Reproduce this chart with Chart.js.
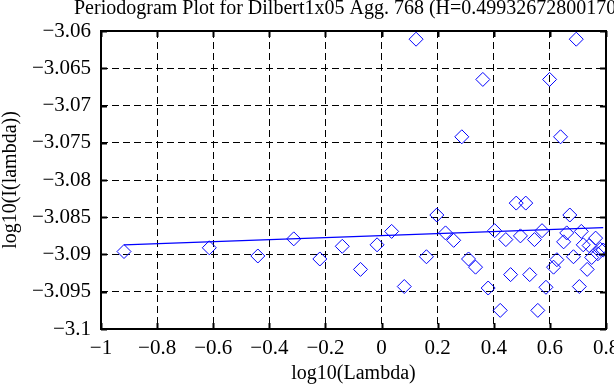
<!DOCTYPE html>
<html>
<head>
<meta charset="utf-8">
<script src="https://cdn.jsdelivr.net/npm/chart.js@4.4.1/dist/chart.umd.min.js"></script>
<style>
  html, body { margin: 0; padding: 0; background: #fff; }
  #wrap { width: 614px; height: 385px; }
</style>
</head>
<body>
<div id="wrap"><canvas id="chart" width="614" height="385"></canvas></div>
<script>
// periodogram points
const logLambda = [
    -0.918, -0.614, -0.441, -0.313, -0.220, -0.140, -0.075, -0.016, 0.036, 0.081,
    0.123, 0.160, 0.197, 0.228, 0.257, 0.286, 0.310, 0.335, 0.361, 0.380,
    0.403, 0.423, 0.443, 0.460, 0.480, 0.495, 0.514, 0.528, 0.545, 0.557,
    0.572, 0.586, 0.599, 0.613, 0.625, 0.638, 0.649, 0.660, 0.671, 0.684,
    0.694, 0.705, 0.712, 0.719, 0.733, 0.740, 0.749, 0.763, 0.771, 0.780, 0.790,
];
const logI = [
    -3.0896, -3.0891, -3.0902, -3.0879, -3.0906, -3.0889, -3.0920, -3.0887, -3.0869, -3.0943,
    -3.0611, -3.0903, -3.0847, -3.0871, -3.0881, -3.0742, -3.0906, -3.0917, -3.0665, -3.0945,
    -3.0868, -3.0975, -3.0880, -3.0927, -3.0831, -3.0875, -3.0831, -3.0927, -3.0880, -3.0975,
    -3.0868, -3.0944, -3.0665, -3.0917, -3.0907, -3.0742, -3.0883, -3.0871, -3.0847, -3.0903,
    -3.0611, -3.0943, -3.0869, -3.0887, -3.0920, -3.0888, -3.0904, -3.0878, -3.0899, -3.0893, -3.0894,
];

// least squares fit line end points
const fitX = [-0.918, 0.790];
const fitY = [-3.0887, -3.0864];

const xTicks = { min: -1, max: 0.8, step: 0.2 };
const yTicks = { min: -3.1, max: -3.06, step: 0.005 };

const titleText = 'Periodogram Plot for Dilbert1x05 Agg. 768 (H=0.499326728001706)';
const xLabel = 'log10(Lambda)';
const yLabel = 'log10(I(lambda))';

const serif = '"Liberation Serif", "DejaVu Serif", serif';
const blue = '#0000ff';

const toMinus = (s) => s.replace('-', '\u2212');

// title is wider than the canvas and gets cut on the right, so draw it
// centred over the plot without the library's maxWidth squeeze
const titlePlugin = {
    id: 'wideTitle',
    afterDraw(chart) {
        const { ctx, chartArea: a } = chart;
        ctx.save();
        ctx.font = `20px ${serif}`;
        ctx.fillStyle = '#000';
        ctx.textAlign = 'center';
        ctx.textBaseline = 'middle';
        ctx.fillText(titleText, (a.left + a.right) / 2, 9);
        ctx.restore();
    },
};

const framePlugin = {
    id: 'frame',
    afterDatasetsDraw(chart) {
        const { ctx, chartArea: a, scales } = chart;
        ctx.save();
        ctx.strokeStyle = '#000';
        ctx.lineWidth = 2;
        ctx.setLineDash([]);
        // inward tick marks on all four sides
        ctx.beginPath();
        scales.x.ticks.forEach((t) => {
            const px = Math.round(scales.x.getPixelForValue(t.value)) + 0.5;
            ctx.moveTo(px, a.top); ctx.lineTo(px, a.top + 6);
            ctx.moveTo(px, a.bottom); ctx.lineTo(px, a.bottom - 6);
        });
        scales.y.ticks.forEach((t) => {
            const py = Math.round(scales.y.getPixelForValue(t.value)) + 0.5;
            ctx.moveTo(a.left, py); ctx.lineTo(a.left + 6, py);
            ctx.moveTo(a.right, py); ctx.lineTo(a.right - 6, py);
        });
        ctx.stroke();
        ctx.strokeRect(a.left, a.top, a.right - a.left, a.bottom - a.top);
        ctx.restore();
    },
};

const gridStyle = {
    color: '#000',
    lineWidth: 1,
    drawTicks: false,
};

new Chart(document.getElementById('chart'), {
    type: 'scatter',
    data: {
        datasets: [
            {
                type: 'line',
                data: fitX.map((x, i) => ({ x, y: fitY[i] })),
                borderColor: blue,
                borderWidth: 1.3,
                pointRadius: 0,
                fill: false,
            },
            {
                data: logLambda.map((x, i) => ({ x, y: logI[i] })),
                pointStyle: 'rectRot',
                pointRadius: 7,
                borderColor: blue,
                backgroundColor: 'rgba(0,0,0,0)',
                borderWidth: 1,
            },
        ],
    },
    options: {
        responsive: false,
        animation: false,
        layout: { padding: { left: 0, right: 5, top: 31, bottom: 0 } },
        plugins: {
            legend: { display: false },
            tooltip: { enabled: false },
            title: { display: false },
        },
        scales: {
            x: {
                type: 'linear',
                min: xTicks.min,
                max: xTicks.max,
                grid: gridStyle,
                border: { display: false, dash: [7, 4] },
                ticks: {
                    stepSize: xTicks.step,
                    color: '#000',
                    padding: 7,
                    font: { family: serif, size: 21 },
                    callback: (v) => toMinus(String(Number(v.toFixed(2)))),
                },
                title: {
                    display: true,
                    text: xLabel,
                    color: '#000',
                    font: { family: serif, size: 20, lineHeight: 1.1 },
                    padding: { top: 0, bottom: 0 },
                },
                afterFit(scale) {
                    scale.height = 56;
                    scale.paddingLeft = 0;
                    scale.paddingRight = 0;
                },
            },
            y: {
                type: 'linear',
                min: yTicks.min,
                max: yTicks.max,
                grid: gridStyle,
                border: { display: false, dash: [7, 4] },
                ticks: {
                    stepSize: yTicks.step,
                    color: '#000',
                    padding: 10,
                    font: { family: serif, size: 21 },
                    callback: (v) => toMinus(String(Number(v.toFixed(3)))),
                },
                title: {
                    display: true,
                    text: yLabel,
                    color: '#000',
                    font: { family: serif, size: 20, lineHeight: 1.1 },
                    padding: { top: 0, bottom: 0 },
                },
                afterFit(scale) {
                    scale.width = 101;
                    scale.paddingTop = 0;
                    scale.paddingBottom = 0;
                },
            },
        },
    },
    plugins: [framePlugin, titlePlugin],
});
</script>
</body>
</html>
